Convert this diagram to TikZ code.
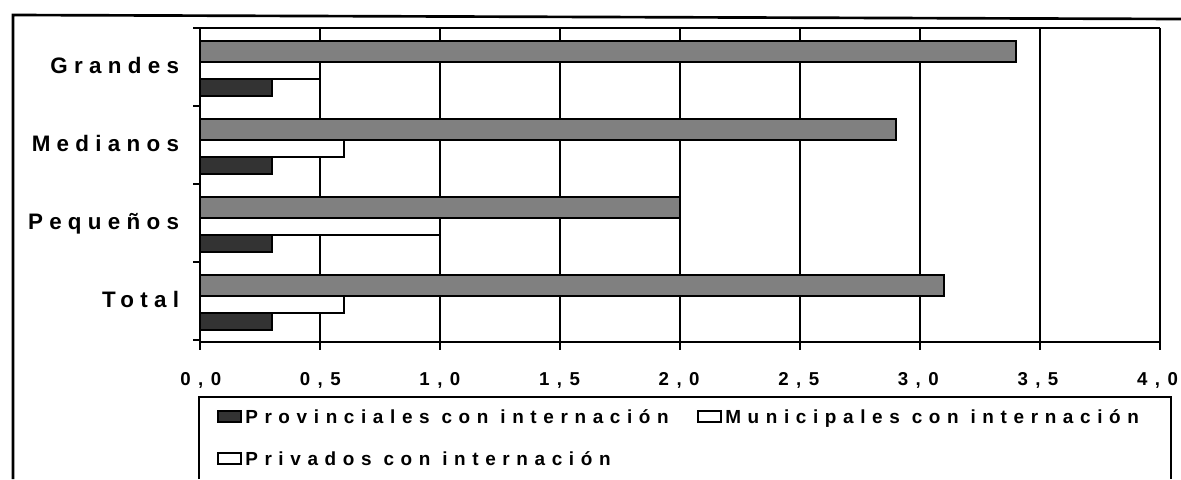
\documentclass[tikz,border=0pt]{standalone}
\usepackage{fontspec}
\newfontfamily\catfont[LetterSpace=28]{Liberation Sans}
\newfontfamily\legfont[LetterSpace=35]{Liberation Sans}
\newfontfamily\tickfont[LetterSpace=40]{Liberation Sans}
\usetikzlibrary{positioning}

\begin{document}
\begin{tikzpicture}[x=0.75pt,y=-0.75pt,
	catlabel/.style={font=\catfont\bfseries\fontsize{16.8}{20}\selectfont,anchor=base east,inner sep=0pt},
	ticklabel/.style={font=\tickfont\bfseries\fontsize{14}{17}\selectfont,anchor=base,inner sep=0pt},
	leglabel/.style={font=\legfont\bfseries\fontsize{14.2}{17}\selectfont,anchor=base west,inner sep=0pt},
	legbox/.style={draw=black,line width=1.8pt,minimum width=17pt,minimum height=8.5pt,inner sep=0pt},
	privbar/.style={draw=black,fill=black!50,line width=2.2pt},
	munbar/.style={draw=black,fill=white,line width=1.6pt},
	provbar/.style={draw=black,fill=black!80,line width=1pt}]
	\useasboundingbox (0,0) rectangle (1181,479);
	
	\draw[line width=2pt] (13,479) -- (13,15) -- (1181,19); % marco
	
	\foreach \i in {1,...,8}{
		\draw[line width=0.8pt] ({200+120*\i},28) -- ({200+120*\i},342);}
	\draw[line width=0.8pt] (200,28) -- (1160,28);
	\draw[line width=1pt] (200,28) -- (200,342) -- (1160,342); % ejes
	
	\foreach \i in {0,...,8}{
		\draw[line width=0.8pt] ({200+120*\i},342) -- ++(0,8);}
	\foreach \k in {0,...,4}{
		\draw[line width=0.8pt] (200,{28+78*\k}) -- ++(-7,0);}
	
	\foreach \i/\name in {0/{0,0},1/{0,5},2/{1,0},3/{1,5},4/{2,0},5/{2,5},6/{3,0},7/{3,5},8/{4,0}}{
		\node[ticklabel] (t\i) at ({197+119.6*\i},385) {\name\kern-0.4em};
	}
	
	\foreach \k/\pri/\mun/\pro in {0/3.4/0.5/0.3,1/2.9/0.6/0.3,2/2.0/1.0/0.3,3/3.1/0.6/0.3}{
		\draw[privbar] (200,{41+78*\k}) rectangle ({200+240*\pri},{62+78*\k});
		\draw[munbar] (200,{62+78*\k}) rectangle ({200+240*\mun},{79+78*\k});
		\draw[provbar] (200,{79+78*\k}) rectangle ({200+240*\pro},{96+78*\k});
	}
	
	\foreach \k/\name in {0/Grandes,1/Medianos,2/Pequeños,3/Total}{
		\node[catlabel] (c\k) at (173,{73+78.3*\k}) {\name\kern-0.28em};
	}
	
	\draw[line width=1pt] (199,479) -- (199,397) -- (1171,397) -- (1171,479); % leyenda
	\node[legbox,fill=black!80] (k1) at (229.5,416.5) {};
	\node[leglabel] (l1) at (245,423) {Provinciales con internación};
	\node[legbox,fill=white] (k2) at (709.5,416.5) {};
	\node[leglabel] (l2) at (725,423) {Municipales con internación};
	\node[legbox,fill=white] (k3) at (229.5,458.5) {};
	\node[leglabel] (l3) at (245,465) {Privados con internación};
\end{tikzpicture}
\end{document}
